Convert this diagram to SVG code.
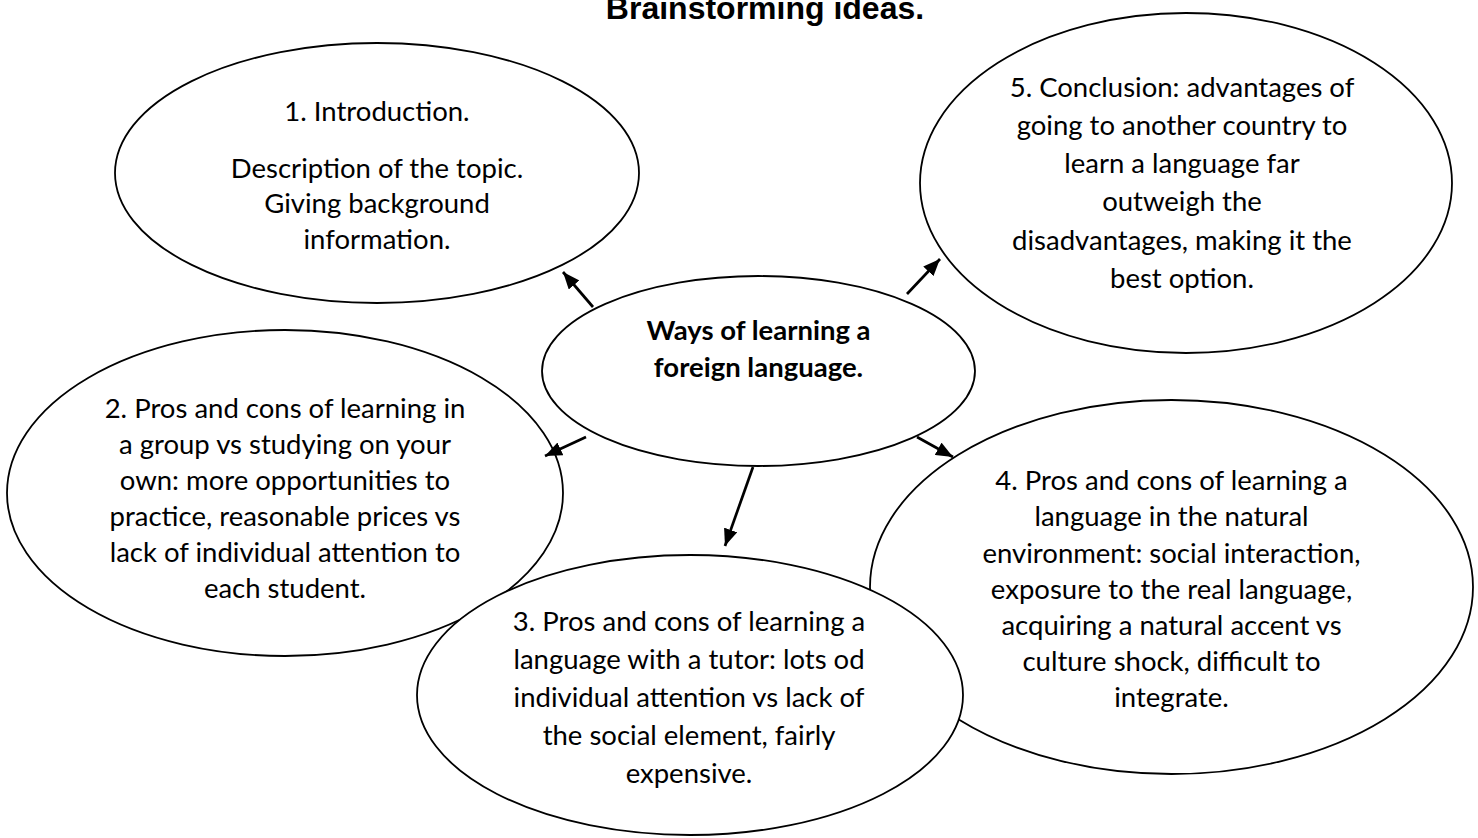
<svg xmlns="http://www.w3.org/2000/svg" width="1478" height="838" viewBox="0 0 1478 838">
<style>
  .bg{fill:#ffffff}
  .node ellipse{fill:#ffffff;stroke:#000000;stroke-width:1.8}
  .t{font-family:Lato,"Open Sans","Liberation Sans",sans-serif;font-size:27.5px;fill:#000000;text-anchor:middle}
  .tb{font-weight:bold}
  .title{font-family:"Liberation Sans",Arial,sans-serif;font-size:32px;font-weight:bold;fill:#000000;text-anchor:middle}
  .conn line{stroke:#000000;stroke-width:2.7;fill:none}
</style>
<defs>
  <marker id="ah" markerUnits="userSpaceOnUse" markerWidth="17" markerHeight="14" refX="17" refY="7" orient="auto">
    <path d="M0,0 L17,7 L0,14 z" fill="#000000"/>
  </marker>
</defs>
<rect class="bg" x="0" y="0" width="1478" height="838"/>
<text class="title" x="765" y="19">Brainstorming ideas.</text>

<g id="node1" class="node">
  <ellipse cx="377" cy="173" rx="262" ry="130"/>
  <text class="t" x="377" y="121">1. Introduction.</text>
  <text class="t" x="377" y="178">Description of the topic.</text>
  <text class="t" x="377" y="213">Giving background</text>
  <text class="t" x="377" y="249">information.</text>
</g>

<g id="node5" class="node">
  <ellipse cx="1186" cy="183" rx="266" ry="170"/>
  <text class="t" x="1182" y="97">5. Conclusion: advantages of</text>
  <text class="t" x="1182" y="135">going to another country to</text>
  <text class="t" x="1182" y="173">learn a language far</text>
  <text class="t" x="1182" y="211">outweigh the</text>
  <text class="t" x="1182" y="250">disadvantages, making it the</text>
  <text class="t" x="1182" y="288">best option.</text>
</g>

<g id="center" class="node">
  <ellipse cx="758.5" cy="371" rx="216.5" ry="95"/>
  <text class="t tb" x="758.5" y="340">Ways of learning a</text>
  <text class="t tb" x="758.5" y="377">foreign language.</text>
</g>

<g id="node2" class="node">
  <ellipse cx="285" cy="493" rx="278" ry="163"/>
  <text class="t" x="285" y="418">2. Pros and cons of learning in</text>
  <text class="t" x="285" y="454">a group vs studying on your</text>
  <text class="t" x="285" y="490">own: more opportunities to</text>
  <text class="t" x="285" y="526">practice, reasonable prices vs</text>
  <text class="t" x="285" y="562">lack of individual attention to</text>
  <text class="t" x="285" y="598">each student.</text>
</g>

<g id="node4" class="node">
  <ellipse cx="1171.5" cy="587" rx="301.5" ry="187"/>
  <text class="t" x="1171.5" y="490">4. Pros and cons of learning a</text>
  <text class="t" x="1171.5" y="526">language in the natural</text>
  <text class="t" x="1171.5" y="563">environment: social interaction,</text>
  <text class="t" x="1171.5" y="599">exposure to the real language,</text>
  <text class="t" x="1171.5" y="635">acquiring a natural accent vs</text>
  <text class="t" x="1171.5" y="671">culture shock, difficult to</text>
  <text class="t" x="1171.5" y="707">integrate.</text>
</g>

<g id="node3" class="node">
  <ellipse cx="690" cy="695" rx="273" ry="140"/>
  <text class="t" x="689" y="631">3. Pros and cons of learning a</text>
  <text class="t" x="689" y="669">language with a tutor: lots od</text>
  <text class="t" x="689" y="707">individual attention vs lack of</text>
  <text class="t" x="689" y="745">the social element, fairly</text>
  <text class="t" x="689" y="783">expensive.</text>
</g>

<g id="connectors" class="conn">
  <line x1="593" y1="307" x2="563" y2="272" marker-end="url(#ah)"/>
  <line x1="907" y1="294" x2="940" y2="259" marker-end="url(#ah)"/>
  <line x1="586" y1="437" x2="545" y2="456" marker-end="url(#ah)"/>
  <line x1="917" y1="437" x2="953" y2="457" marker-end="url(#ah)"/>
  <line x1="753" y1="467" x2="725" y2="546" marker-end="url(#ah)"/>
</g>
</svg>
